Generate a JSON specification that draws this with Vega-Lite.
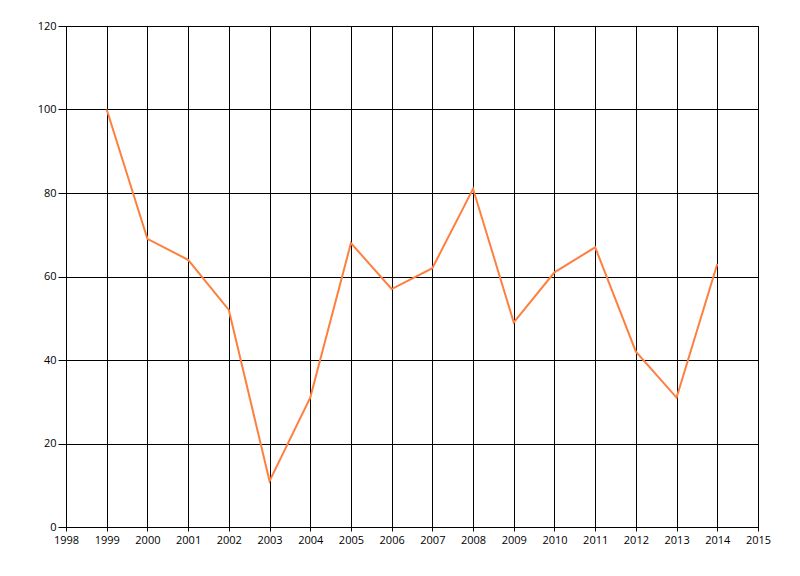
{
  "$schema": "https://vega.github.io/schema/vega-lite/v6.json",
  "width": 692,
  "height": 501,
  "autosize": {"type": "none"},
  "padding": {"left": 66, "top": 26, "right": 42, "bottom": 49},
  "background": "white",
  "view": {"stroke": "black", "strokeWidth": 1},
  "config": {
    "font": "Open Sans",
    "axis": {
      "domainColor": "black",
      "gridColor": "black",
      "gridOpacity": 1,
      "gridWidth": 1,
      "tickColor": "black",
      "labelColor": "black",
      "labelFontSize": 11,
      "labelFont": "Open Sans",
      "title": null
    }
  },
  "data": {
    "values": [
      {"year": 1999, "value": 100},
      {"year": 2000, "value": 69},
      {"year": 2001, "value": 64},
      {"year": 2002, "value": 52},
      {"year": 2003, "value": 11},
      {"year": 2004, "value": 31},
      {"year": 2005, "value": 68},
      {"year": 2006, "value": 57},
      {"year": 2007, "value": 62},
      {"year": 2008, "value": 81},
      {"year": 2009, "value": 49},
      {"year": 2010, "value": 61},
      {"year": 2011, "value": 67},
      {"year": 2012, "value": 42},
      {"year": 2013, "value": 31},
      {"year": 2014, "value": 63}
    ]
  },
  "mark": {"type": "line", "color": "#ff7f3f", "strokeWidth": 2},
  "encoding": {
    "x": {
      "field": "year",
      "type": "quantitative",
      "scale": {"domain": [1998, 2015], "nice": false, "zero": false},
      "axis": {
        "values": [1998, 1999, 2000, 2001, 2002, 2003, 2004, 2005, 2006, 2007, 2008, 2009, 2010, 2011, 2012, 2013, 2014, 2015],
        "format": "d",
        "tickSize": 4,
        "labelPadding": 3,
        "labelFlush": false,
        "labelOverlap": false
      }
    },
    "y": {
      "field": "value",
      "type": "quantitative",
      "scale": {"domain": [0, 120], "nice": false},
      "axis": {
        "values": [0, 20, 40, 60, 80, 100, 120],
        "tickSize": 8,
        "labelPadding": 2,
        "labelFlush": false
      }
    }
  }
}
